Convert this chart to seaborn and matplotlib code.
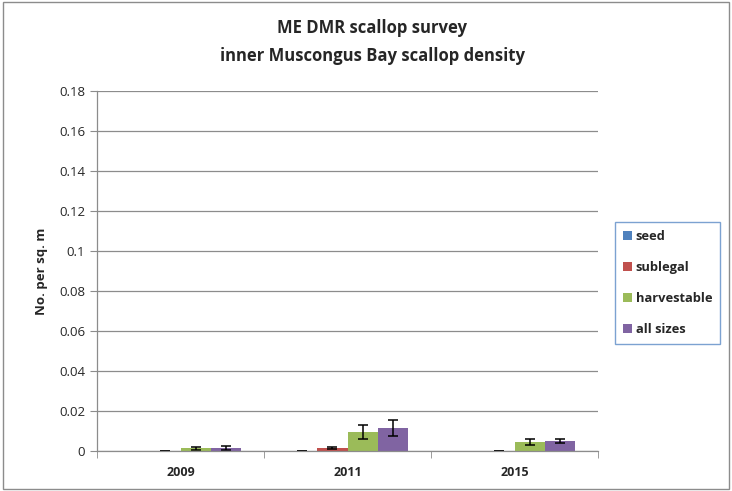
import matplotlib
matplotlib.use('Agg')
import matplotlib.pyplot as plt
import numpy as np
import pandas as pd
import seaborn as sns
from matplotlib.patches import Rectangle
from matplotlib.ticker import FuncFormatter, FixedLocator

# Data
years = ['2009', '2011', '2015']
sizes = ['seed', 'sublegal', 'harvestable', 'all sizes']
seed = [0.0, 0.0, 0.0]
sublegal = [0.0, 0.0013, 0.0]
harvestable = [0.0013, 0.0095, 0.0045]
all_sizes = [0.0014, 0.0115, 0.0052]
# error bar half-widths (nan = no error bar shown)
seed_err = [np.nan, 0.0, np.nan]
sublegal_err = [0.0, 0.0005, 0.0]
harvestable_err = [0.0007, 0.0034, 0.0013]
all_sizes_err = [0.0010, 0.0042, 0.0010]

colors = ['#4F81BD', '#C0504D', '#9BBB59', '#8064A2']

df = pd.DataFrame({
    'year': years * 4,
    'size': [s for s in sizes for _ in years],
    'density': seed + sublegal + harvestable + all_sizes,
    'err': seed_err + sublegal_err + harvestable_err + all_sizes_err,
})

sns.set_style('white')
plt.rcParams['font.family'] = ['Open Sans', 'DejaVu Sans']

fig = plt.figure(figsize=(7.32, 4.91), dpi=100)
ax = fig.add_axes([97 / 732, 1 - 451 / 491, 501 / 732, 360 / 491])

sns.barplot(data=df, x='year', y='density', hue='size', order=years,
            hue_order=sizes, palette=colors, errorbar=None, width=0.72,
            linewidth=0, saturation=1, ax=ax)

# error bars on top of each bar, from the bar geometry
for container, s in zip(ax.containers, sizes):
    errs = df[df['size'] == s].set_index('year').loc[years, 'err'].values
    for bar, e in zip(container, errs):
        if np.isnan(e):
            continue
        xc = bar.get_x() + bar.get_width() / 2
        ax.errorbar(xc, bar.get_height(), yerr=e, fmt='none', ecolor='black',
                    elinewidth=1.1, capsize=3.5, capthick=1.1)

ax.set_ylim(0, 0.18)
ax.set_xlim(-0.5, 2.5)
ax.set_yticks(np.arange(0, 0.1801, 0.02))
ax.yaxis.set_major_formatter(FuncFormatter(lambda v, p: f'{round(v, 2):g}'))
ax.yaxis.grid(True, color='#8C8C8C', linewidth=0.9)
ax.set_axisbelow(True)
for side in ['top', 'right']:
    ax.spines[side].set_visible(False)
for side in ['left', 'bottom']:
    ax.spines[side].set_color('#8C8C8C')
    ax.spines[side].set_linewidth(0.9)

ax.tick_params(axis='y', length=5, color='#8C8C8C', labelsize=9.5, direction='out', left=True)
ax.tick_params(axis='x', which='major', length=0, labelsize=9, pad=11)
ax.xaxis.set_minor_locator(FixedLocator([-0.5, 0.5, 1.5, 2.5]))
ax.tick_params(axis='x', which='minor', length=5, color='#8C8C8C', direction='out', bottom=True)
for lbl in ax.get_xticklabels():
    lbl.set_fontweight('bold')

ax.set_xlabel('')
ax.set_ylabel('No. per sq. m', fontsize=9.5, fontweight='bold', labelpad=8)

fig.text(372 / 732, 1 - 42 / 491, 'ME DMR scallop survey\ninner Muscongus Bay scallop density',
         ha='center', va='center', fontsize=12, fontweight='bold', linespacing=1.75)

leg = ax.legend(loc='upper left', bbox_to_anchor=(615 / 732, 1 - 222 / 491),
                bbox_transform=fig.transFigure, frameon=True, fancybox=False,
                borderaxespad=0, handlelength=0.7, handleheight=0.7, handletextpad=0.3,
                labelspacing=1.4, borderpad=0.6, fontsize=9.3)
leg.get_frame().set_edgecolor('#5B8BC6')
leg.get_frame().set_linewidth(1.0)
for t in leg.get_texts():
    t.set_fontweight('bold')

fig.patches.append(Rectangle((0.004, 0.004), 0.992, 0.992, transform=fig.transFigure,
                             fill=False, edgecolor='#8C8C8C', linewidth=1.0))

fig.savefig('out.png', dpi=100)
